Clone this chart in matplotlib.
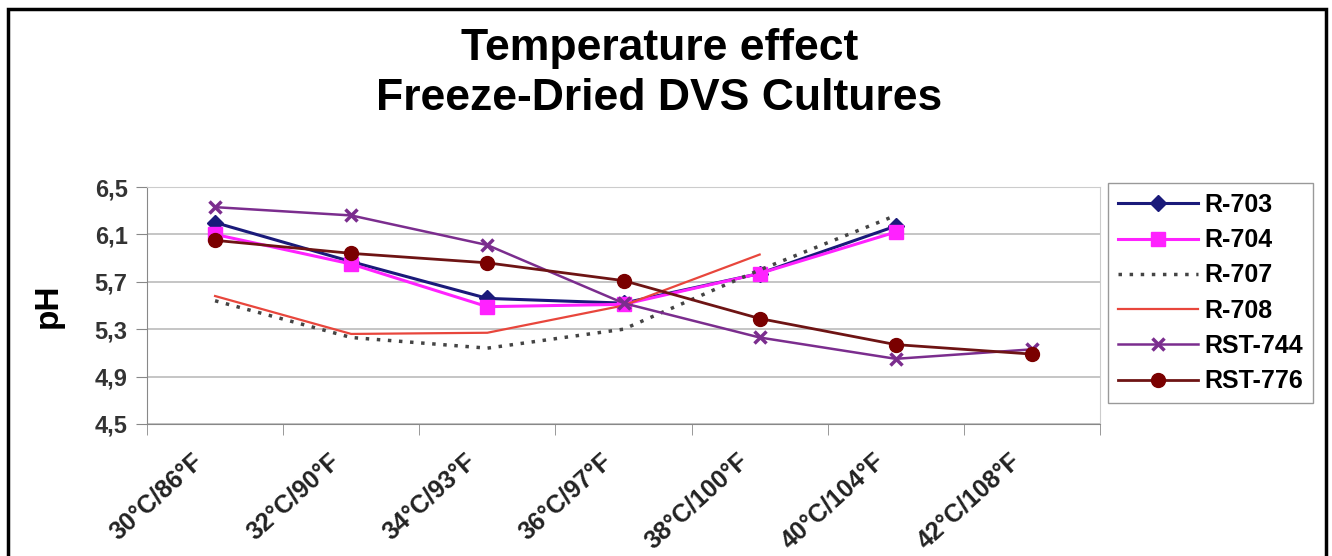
import matplotlib
matplotlib.use("Agg")
import matplotlib.pyplot as plt
import numpy as np
from matplotlib.patches import Rectangle

nan = np.nan

# categories on the x axis
temps = ["30°C/86°F", "32°C/90°F", "34°C/93°F", "36°C/97°F",
         "38°C/100°F", "40°C/104°F", "42°C/108°F"]

# pH (nan = no point)
r703 = [6.20, 5.87, 5.56, 5.52, 5.77, 6.17, nan]
r704 = [6.10, 5.85, 5.49, 5.51, 5.77, 6.12, nan]
r707 = [5.54, 5.23, 5.14, 5.30, 5.80, 6.26, nan]
r708 = [5.58, 5.26, 5.27, 5.50, 5.93, nan, nan]
rst744 = [6.33, 6.26, 6.01, 5.52, 5.23, 5.05, 5.13]
rst776 = [6.05, 5.94, 5.86, 5.71, 5.39, 5.17, 5.09]

yticks = [4.5, 4.9, 5.3, 5.7, 6.1, 6.5]
ytick_labels = ["4,5", "4,9", "5,3", "5,7", "6,1", "6,5"]

plt.rcParams['font.family'] = ['Liberation Sans', 'DejaVu Sans']

fig = plt.figure(figsize=(13.32, 5.56), dpi=100)
ax = fig.add_axes([147 / 1332, 1 - 424 / 556, 953 / 1332, 237 / 556])

x = np.arange(len(temps))
ax.plot(x, r703, color="#1a1a7a", lw=2.2, marker="D", ms=8, label="R-703")
ax.plot(x, r704, color="#ff22ff", lw=2.2, marker="s", ms=10, label="R-704")
ax.plot(x, r707, color="#444444", lw=2.5, ls=(0, (1, 2.2)), label="R-707")
ax.plot(x, r708, color="#e8463c", lw=1.6, label="R-708")
ax.plot(x, rst744, color="#7b2d8e", lw=1.8, marker="x", ms=9, mew=2.5,
        label="RST-744")
ax.plot(x, rst776, color="#6e1414", lw=2.0, marker="o", ms=10,
        mfc="#7a0000", mec="#7a0000", label="RST-776")

ax.set_xlim(-0.5, len(temps) - 0.5)
ax.set_ylim(4.5, 6.5)
ax.set_yticks(yticks)
ax.set_yticklabels(ytick_labels, fontsize=17, fontweight="bold", color="#333333")
# labels sit a little left of the category centre, as in the original
ax.set_xticks(x - 0.17)
ax.set_xticklabels(temps, rotation=42, ha="right", va="top",
                   rotation_mode="anchor",
                   fontsize=18, fontweight="bold", color="#222222")
ax.set_xticks(np.arange(-0.5, len(temps)), minor=True)
ax.tick_params(axis="x", which="major", length=0, pad=18)
ax.tick_params(axis="x", which="minor", length=8, color="#888888")
ax.tick_params(axis="y", length=8, color="#888888", pad=6)
ax.grid(axis="y", color="#bbbbbb", lw=1.2)
for s in ["left", "bottom"]:
    ax.spines[s].set_color("#888888")
for s in ["top", "right"]:
    ax.spines[s].set_color("#cccccc")
ax.set_ylabel("pH", fontsize=24, fontweight="bold", labelpad=22)

fig.text(0.495, 0.912, "Temperature effect", ha="center", va="center",
         fontsize=32, fontweight="bold")
fig.text(0.495, 0.822, "Freeze-Dried DVS Cultures", ha="center", va="center",
         fontsize=32, fontweight="bold")

leg = ax.legend(loc="upper left", bbox_to_anchor=(1108 / 1332, 1 - 183 / 556),
                bbox_transform=fig.transFigure,
                prop={"weight": "bold", "size": 18},
                handlelength=3.2, handletextpad=0.25, labelspacing=0.45,
                borderpad=0.4, borderaxespad=0, fancybox=False, framealpha=1)
leg.get_frame().set_edgecolor("#999999")

# outer frame
fig.patches.append(Rectangle((8 / 1332, -0.05), 1318 / 1332, 1.05 - 9 / 556,
                             transform=fig.transFigure, fill=False,
                             edgecolor="black", lw=2.5))

fig.savefig("out.png", dpi=100)
